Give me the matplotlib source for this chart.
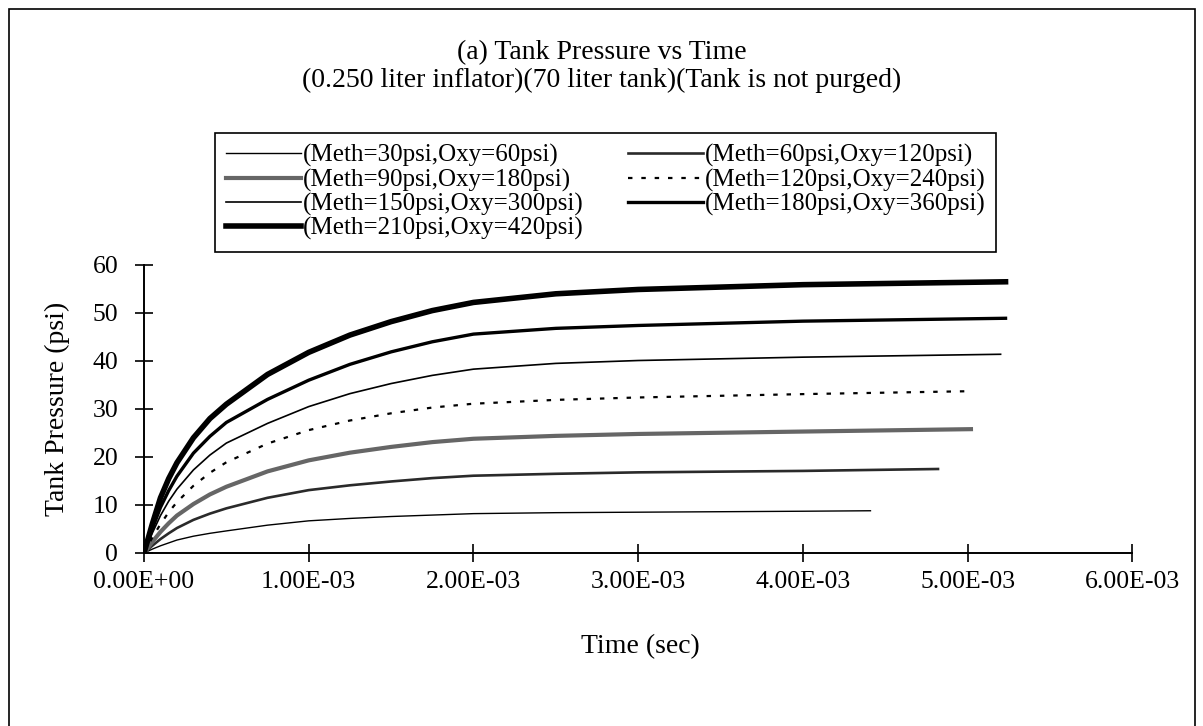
import matplotlib.pyplot as plt
from matplotlib.patches import Rectangle
from matplotlib.ticker import FuncFormatter

plt.rcParams['font.family'] = ['Liberation Serif', 'DejaVu Serif']

# time points in ms (last point = end of each curve)
t_base = [0, 0.05, 0.1, 0.15, 0.2, 0.3, 0.4, 0.5, 0.75, 1.0, 1.25, 1.5, 1.75,
          2.0, 2.5, 3.0, 4.0]

labels = ['(Meth=30psi,Oxy=60psi)', '(Meth=60psi,Oxy=120psi)',
          '(Meth=90psi,Oxy=180psi)', '(Meth=120psi,Oxy=240psi)',
          '(Meth=150psi,Oxy=300psi)', '(Meth=180psi,Oxy=360psi)',
          '(Meth=210psi,Oxy=420psi)']
t_end = [4.41, 4.82, 5.02, 5.0, 5.2, 5.23, 5.23]

p30 = [0, 0.8, 1.5, 2.1, 2.7, 3.5, 4.1, 4.6, 5.8, 6.7, 7.2, 7.6, 7.9,
       8.2, 8.4, 8.5, 8.7, 8.8]
p60 = [0, 1.5, 2.9, 4.1, 5.2, 6.9, 8.2, 9.3, 11.5, 13.1, 14.1, 14.9, 15.6,
       16.1, 16.5, 16.8, 17.1, 17.5]
p90 = [0, 2.3, 4.4, 6.2, 7.8, 10.2, 12.2, 13.8, 17.0, 19.3, 20.9, 22.1, 23.1,
       23.8, 24.4, 24.8, 25.3, 25.8]
p120 = [0, 3.2, 6.0, 8.5, 10.6, 14.0, 16.7, 18.9, 22.8, 25.6, 27.6, 29.1, 30.3,
        31.1, 31.9, 32.4, 33.1, 33.7]
p150 = [0, 4.1, 7.8, 10.8, 13.3, 17.3, 20.4, 22.9, 27.0, 30.5, 33.2, 35.3, 37.0,
        38.3, 39.5, 40.1, 40.8, 41.4]
p180 = [0, 5.0, 9.5, 13.0, 16.0, 20.8, 24.3, 27.2, 32.0, 36.0, 39.3, 41.9, 44.0,
        45.6, 46.8, 47.4, 48.3, 48.9]
p210 = [0, 6.0, 11.5, 15.5, 18.8, 24.0, 28.0, 31.0, 37.2, 41.8, 45.4, 48.2, 50.5,
        52.2, 54.0, 54.9, 55.9, 56.5]
pressures = [p30, p60, p90, p120, p150, p180, p210]

colors = ['black', '#2a2a2a', '#666666', 'black', 'black', 'black', 'black']
widths = [1.0, 1.9, 3.0, 1.6, 1.2, 2.4, 4.0]
styles = ['-', '-', '-', (0, (2, 4)), '-', '-', '-']

fig = plt.figure(figsize=(12.03, 7.26), dpi=100)
ax = fig.add_axes([0.1197, 0.2383, 0.8216, 0.3967])

lines = []
for i in range(7):
    t = [v * 1e-3 for v in t_base] + [t_end[i] * 1e-3]
    ln, = ax.plot(t, pressures[i], color=colors[i], lw=widths[i],
                  linestyle=styles[i], label=labels[i])
    lines.append(ln)

ax.set_xlim(0, 6e-3)
ax.set_ylim(0, 60)
ax.set_xticks([i * 1e-3 for i in range(7)])
ax.set_yticks(range(0, 61, 10))
ax.xaxis.set_major_formatter(FuncFormatter(lambda x, p: f'{x:.2E}'))
ax.tick_params(direction='inout', length=13, width=1.2, labelsize=18.5,
               colors='black')
ax.tick_params(axis='x', pad=6.5)
ax.tick_params(axis='y', pad=12)
for s in ['top', 'right']:
    ax.spines[s].set_visible(False)
for s in ['left', 'bottom']:
    ax.spines[s].set_linewidth(1.4)

fig.text(640 / 1203, 1 - 647 / 726, 'Time (sec)', ha='center', va='center',
         fontsize=20)
fig.text(57 / 1203, 1 - 409 / 726, 'Tank Pressure (psi)', ha='center',
         va='center', rotation=90, fontsize=20)

# legend is filled column-wise, so reorder to match the row layout
order = [0, 2, 4, 6, 1, 3, 5]
leg = fig.legend([lines[i] for i in order], [labels[i] for i in order],
                 ncol=2, loc='upper left', bbox_to_anchor=(0.1787, 0.8168),
                 borderaxespad=0,
                 fontsize=18, handlelength=3.0, handletextpad=0.05,
                 columnspacing=1.8, labelspacing=0.05, borderpad=0.45,
                 fancybox=False, edgecolor='black', framealpha=1)
leg.get_frame().set_linewidth(1.2)

fig.text(0.5, 1 - 53 / 726, '(a) Tank Pressure vs Time', ha='center',
         va='center', fontsize=20)
fig.text(0.5, 1 - 80 / 726,
         '(0.250 liter inflator)(70 liter tank)(Tank is not purged)',
         ha='center', va='center', fontsize=20)

fig.patches.append(Rectangle((9 / 1203, -0.1), 1186 / 1203, 1.1 - 9 / 726,
                             transform=fig.transFigure, fill=False,
                             edgecolor='black', lw=1.2))

fig.savefig('out.png', dpi=100)
